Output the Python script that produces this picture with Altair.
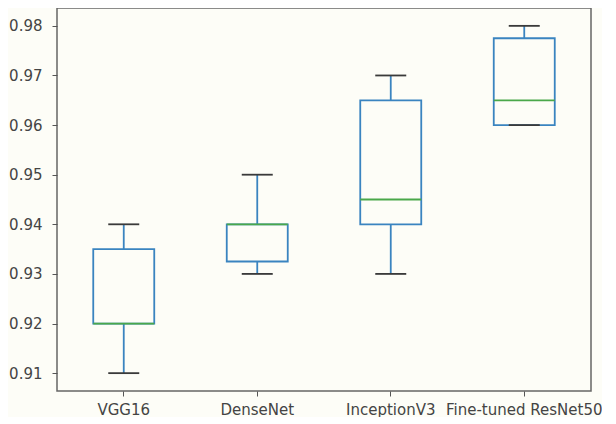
import altair as alt
import pandas as pd

models = ["VGG16", "DenseNet", "InceptionV3", "Fine-tuned ResNet50"]
whisker_low = [0.91, 0.93, 0.93, 0.96]
q1 = [0.92, 0.9325, 0.94, 0.96]
median = [0.92, 0.94, 0.945, 0.965]
q3 = [0.935, 0.94, 0.965, 0.9775]
whisker_high = [0.94, 0.95, 0.97, 0.98]
y_ticks = [0.91, 0.92, 0.93, 0.94, 0.95, 0.96, 0.97, 0.98]

df = pd.DataFrame({
    "model": models, "lo": whisker_low, "q1": q1, "med": median,
    "q3": q3, "hi": whisker_high,
})

BLUE = "#3a84c0"
GREEN = "#4aa84a"
DARK = "#3a3a3a"
BG = "#fdfdf7"

x = alt.X("model:N", sort=models, title=None,
          scale=alt.Scale(paddingInner=0, paddingOuter=0),
          axis=alt.Axis(labelAngle=0, labelFontSize=15, labelFont="DejaVu Sans",
                        labelColor="#444", tickColor="#555", tickSize=5,
                        labelPadding=6, domain=False, grid=False))
yscale = alt.Scale(domain=[0.9064, 0.9836], nice=False, zero=False)
yaxis = alt.Axis(values=y_ticks, format=".2f", labelFontSize=15, labelFont="DejaVu Sans",
                 labelColor="#444", tickColor="#555", tickSize=5, labelPadding=10,
                 domain=False, grid=False)

base = alt.Chart(df)

whisk_lo = base.mark_rule(color=BLUE, strokeWidth=1.8).encode(
    x=x, y=alt.Y("lo:Q", scale=yscale, axis=yaxis, title=None), y2="q1:Q")
whisk_hi = base.mark_rule(color=BLUE, strokeWidth=1.8).encode(
    x=x, y=alt.Y("q3:Q", scale=yscale, title=None), y2="hi:Q")
box = base.mark_bar(fill=BG, fillOpacity=0, stroke=BLUE, strokeWidth=1.8, size=61).encode(
    x=x, y=alt.Y("q1:Q", scale=yscale, title=None), y2="q3:Q")
med = base.mark_tick(color=GREEN, thickness=1.8, size=61, opacity=1).encode(
    x=x, y=alt.Y("med:Q", scale=yscale, title=None))
cap_lo = base.mark_tick(color=DARK, thickness=1.8, size=31, opacity=1).encode(
    x=x, y=alt.Y("lo:Q", scale=yscale, title=None))
cap_hi = base.mark_tick(color=DARK, thickness=1.8, size=31, opacity=1).encode(
    x=x, y=alt.Y("hi:Q", scale=yscale, title=None))

chart = alt.layer(whisk_lo, whisk_hi, box, med, cap_lo, cap_hi).properties(
    width=534, height=383, padding=0, background=BG
).configure_view(stroke="#666", strokeWidth=1.5, fill=BG)

chart.save("out.html", embed_options={"renderer": "svg", "actions": False})
